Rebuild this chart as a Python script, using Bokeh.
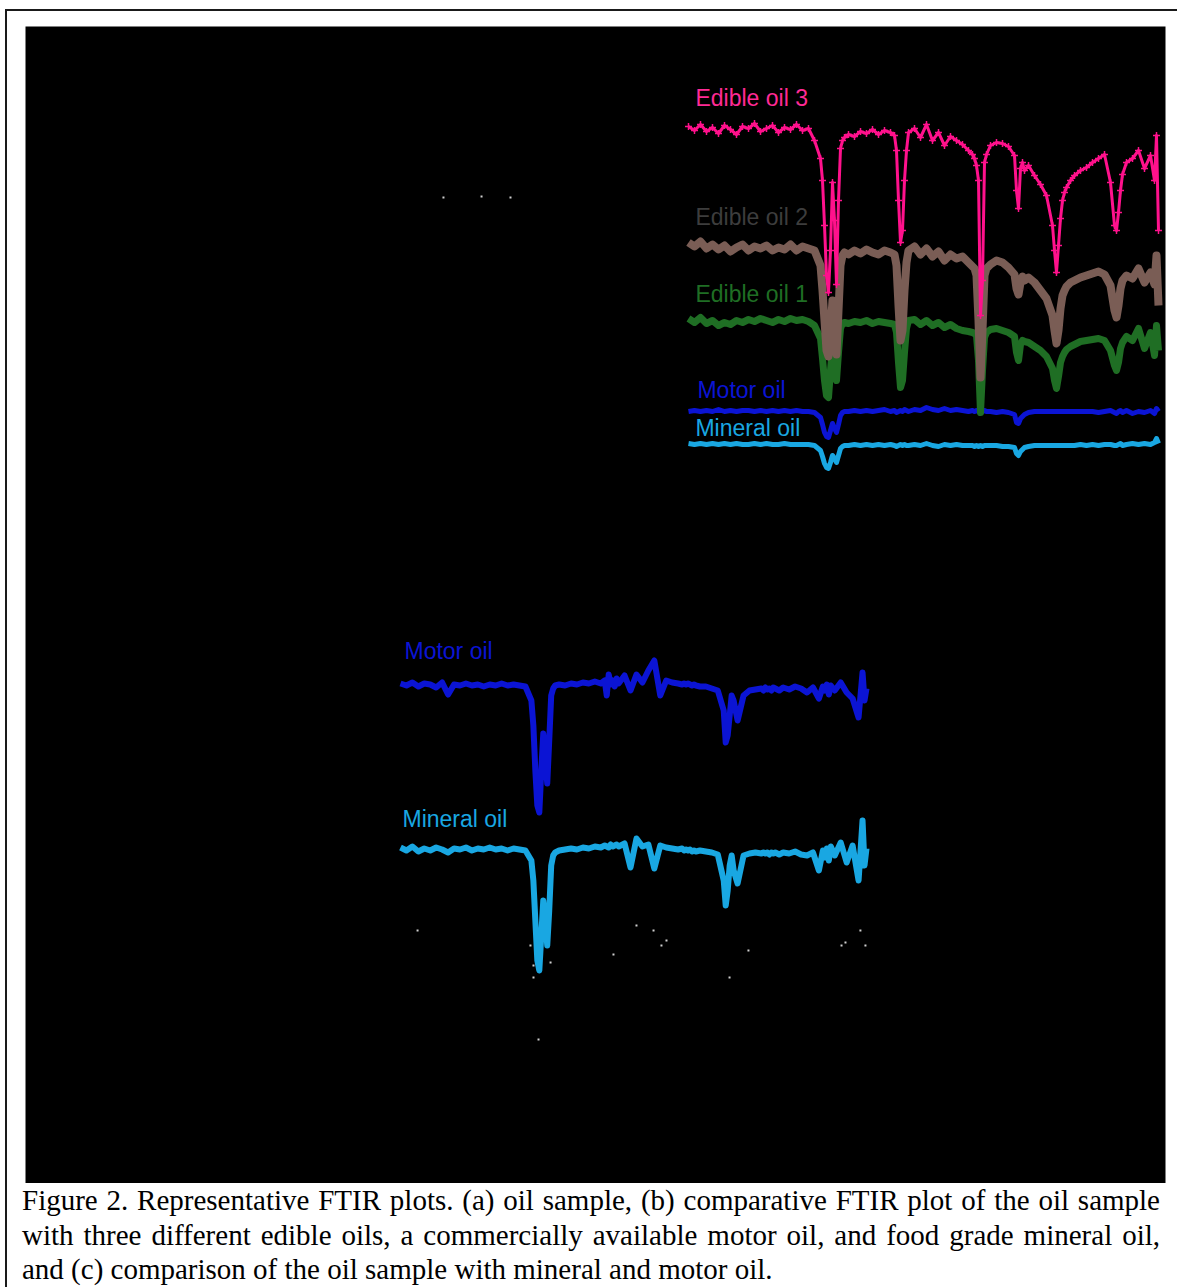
from bokeh.plotting import figure
from bokeh.models import Range1d, Div, Spacer
from bokeh.layouts import column, row
from bokeh.core.properties import value
from bokeh.embed import file_html
from bokeh.resources import INLINE

# ---------------- data ----------------
# wavenumber grid (cm-1), shared by all spectra
wavenumber = [4000, 3955, 3910, 3865, 3820, 3775, 3730, 3685, 3640, 3595, 3550, 3505, 3460, 3415, 3370, 3325,
              3280, 3235, 3190, 3145, 3100, 3055,
              3010, 2995, 2980, 2965, 2950, 2935, 2920, 2905, 2890, 2875, 2860, 2845, 2830,
              2800, 2755, 2710, 2665, 2620, 2575, 2530, 2485,
              2455, 2440, 2425, 2410, 2395, 2380, 2365, 2350,
              2305, 2260, 2215, 2170, 2125, 2080, 2035, 1990, 1945, 1900,
              1870, 1855, 1840, 1825, 1810, 1795, 1780, 1765,
              1735, 1690, 1645, 1600, 1555,
              1540, 1525, 1510, 1495, 1480,
              1450, 1405, 1360, 1315, 1270,
              1255, 1240, 1225, 1210, 1195, 1180, 1165,
              1135, 1105, 1060, 1015, 970, 925, 880, 835,
              805, 790, 775, 760, 745,
              715, 670, 625, 580, 535,
              505, 490, 475]

# panel (b): stacked transmittance (a.u.)
edible_oil_3 = [354, 350, 356, 349, 353, 347, 355, 351, 346, 354, 352, 357, 349, 352, 355, 348, 353, 351, 356, 350, 352, 340,
                322, 300, 255, 205, 188, 230, 298, 260, 196, 280, 332, 340, 343,
                346, 344, 349, 347, 351, 346, 350, 348,
                345, 330, 280, 238, 250, 300, 330, 348,
                352, 343, 356, 340, 348, 335, 344, 340, 336, 330,
                326, 322, 315, 300, 165, 200, 318, 326,
                335, 338, 337, 334, 325,
                290, 272, 312, 318, 310,
                315, 305, 296, 285, 255,
                230, 208, 235, 262, 280, 288, 293,
                300, 305, 310, 313, 318, 322, 326, 298,
                255, 250, 268, 290, 306,
                318, 322, 330, 312, 325,
                300, 345, 250]
edible_oil_2 = [238, 234, 239, 232, 236, 231, 235, 229, 233, 236, 230, 234, 232, 235, 230, 233, 231, 236, 230, 234, 232, 230,
                215, 190, 160, 130, 124, 150, 180, 150, 126, 170, 215, 225, 228,
                226, 230, 227, 231, 228, 226, 230, 228,
                226, 215, 175, 140, 150, 190, 218, 230,
                234, 226, 232, 224, 229, 220, 226, 222, 224, 218,
                214, 212, 205, 160, 103, 150, 205, 212,
                216, 220, 218, 213, 206,
                192, 186, 198, 204, 200,
                203, 198, 190, 182, 165,
                150, 137, 150, 172, 185, 190, 194,
                198, 200, 203, 205, 207, 209, 206, 195,
                170, 163, 175, 192, 200,
                205, 202, 212, 198, 208,
                196, 225, 175]
edible_oil_1 = [162, 158, 163, 157, 160, 155, 158, 156, 160, 158, 161, 159, 162, 160, 158, 161, 159, 162, 160, 161, 159, 155,
                142, 122, 100, 85, 83, 110, 133, 118, 100, 128, 152, 157, 158,
                157, 159, 158, 160, 157, 159, 158, 157,
                156, 148, 118, 93, 100, 128, 152, 160,
                161, 156, 160, 155, 158, 153, 156, 152, 150, 149,
                148, 147, 145, 120, 68, 110, 143, 148,
                151, 152, 150, 148, 144,
                128, 120, 136, 140, 139,
                138, 134, 130, 124, 112,
                100, 92, 104, 118, 124, 128, 131,
                134, 136, 139, 140, 141, 142, 140, 130,
                115, 110, 118, 132, 138,
                144, 140, 152, 132, 148,
                125, 155, 130]
motor_oil_b = [69, 70, 69, 70, 69, 71, 69, 70, 69, 70, 70, 69, 70, 69, 70, 69, 70, 69, 70, 69, 69, 68,
               63, 56, 48, 44, 43, 50, 57, 52, 48, 56, 65, 68, 69,
               69, 70, 69, 70, 69, 70, 71, 69,
               70, 68, 69, 70, 69, 71, 70, 69,
               71, 70, 73, 71, 70, 72, 70, 71, 70, 69,
               70, 69, 70, 69, 70, 69, 70, 69,
               69, 68, 69, 68, 66,
               58, 57, 62, 64, 66,
               68, 69, 69, 69, 69,
               69, 69, 69, 69, 69, 69, 69,
               69, 69, 69, 69, 69, 68, 69, 70,
               68, 67, 69, 70, 68,
               70, 67, 69, 68, 70,
               67, 72, 69]
mineral_oil_b = [37, 36, 37, 36, 37, 36, 37, 36, 37, 36, 36, 37, 36, 37, 36, 36, 37, 36, 36, 36, 36, 35,
                 30, 24, 17, 13, 12, 18, 25, 22, 18, 25, 32, 34, 35,
                 35, 36, 35, 36, 35, 36, 35, 36,
                 35, 34, 35, 36, 35, 36, 35, 35,
                 36, 35, 37, 35, 34, 36, 35, 36, 35, 35,
                 35, 34, 35, 34, 35, 34, 35, 35,
                 35, 35, 34, 34, 33,
                 27, 25, 29, 31, 33,
                 34, 35, 35, 35, 35,
                 35, 35, 35, 35, 35, 35, 35,
                 35, 35, 36, 35, 36, 35, 36, 36,
                 35, 35, 36, 37, 35,
                 36, 37, 36, 37, 36,
                 38, 42, 37]

# panel (c): stacked transmittance (a.u.)
motor_oil_c = [377, 375, 378, 374, 377, 376, 373, 378, 366, 376, 375, 377, 375, 376, 374, 376, 375, 377, 375, 376, 375, 374,
               360, 335, 290, 255, 248, 290, 327, 300, 277, 320, 365, 372, 375,
               376, 375, 377, 376, 378, 377, 379, 377,
               380, 365, 386, 376, 380, 374, 382, 377,
               385, 370, 386, 378, 390, 400, 365, 380, 378, 377,
               376, 377, 376, 377, 376, 375, 376, 375,
               374, 374, 372, 370, 350,
               318, 325, 345, 365, 360,
               340, 365, 370, 371, 372,
               370, 373, 371, 372, 370, 373, 372,
               370, 373, 371, 374, 372, 368, 373, 362,
               374, 370, 376, 366, 375,
               370, 378, 368, 362, 343,
               388, 360, 372]
mineral_oil_c = [213, 210, 214, 209, 212, 210, 213, 211, 208, 212, 211, 213, 210, 212, 211, 213, 211, 212, 210, 212, 211, 210,
                 200, 180, 140, 100, 90, 125, 160, 140, 115, 150, 195, 205, 208,
                 210, 211, 212, 211, 213, 212, 214, 213,
                 215, 214, 213, 216, 214, 215, 216, 214,
                 217, 193, 222, 214, 216, 192, 215, 213, 212, 211,
                 212, 210, 211, 210, 211, 209, 210, 209,
                 210, 209, 208, 206, 180,
                 155, 170, 195, 205, 190,
                 177, 205, 207, 208, 207,
                 208, 207, 208, 206, 208, 207, 208,
                 206, 208, 207, 209, 206, 205, 208, 190,
                 210, 203, 212, 200, 214,
                 205, 218, 198, 215, 180,
                 240, 195, 212]

# faint specks of the (black) oil-sample trace
sample_wn = [3675, 3387, 3168, 3871, 3017, 2994, 2994, 2865, 2956, 2389, 2215, 2086, 1988, 2026, 1368, 1511, 521, 634, 664, 483]
sample_val = [863, 864, 863, 130, 115, 95, 83, 98, 21, 106, 135, 130, 120, 115, 110, 83, 130, 118, 115, 115]

series_b = ["Mineral oil", "Motor oil", "Edible oil 1", "Edible oil 2", "Edible oil 3"]
series_c = ["Mineral oil", "Motor oil"]

caption_lines = [
    "Figure 2. Representative FTIR plots. (a) oil sample, (b) comparative FTIR plot of the oil sample",
    "with three different edible oils, a commercially available motor oil, and food grade mineral oil,",
    "and (c) comparison of the oil sample with mineral and motor oil.",
]

# ---------------- layout helpers ----------------
FRAME_L, FRAME_R, FRAME_T, FRAME_B = 25, 1165, 26, 1183   # page pixels of the black panel


def xrange_for(v0, p0, v1, p1):
    s = (v1 - v0) / (p1 - p0)
    return Range1d(start=v0 + (FRAME_L - p0) * s, end=v0 + (FRAME_R - p0) * s)


def yrange_for(v0, p0, v1, p1):
    s = (v1 - v0) / (p1 - p0)
    return Range1d(start=v0 + (FRAME_B - p0) * s, end=v0 + (FRAME_T - p0) * s)


p = figure(width=1170, height=1172, title=None, output_backend="svg", toolbar_location=None,
           x_range=Range1d(0, 1), y_range=Range1d(0, 1),
           x_axis_location=None, y_axis_location=None,
           min_border_left=18, min_border_right=12, min_border_top=15, min_border_bottom=0,
           background_fill_color="black", border_fill_color="white", outline_line_color=None)
p.grid.visible = False

p.extra_x_ranges = {"wb": xrange_for(4000, 688, 475, 1158), "wc": xrange_for(4000, 400, 475, 866)}
p.extra_y_ranges = {"yb": yrange_for(0, 480, 100, 380), "yc": yrange_for(0, 1060, 100, 960)}

col = {"Edible oil 3": "#ff118c", "Edible oil 2": "#7a5d55", "Edible oil 1": "#1f6e24",
       "Motor oil": "#0b14d4", "Mineral oil": "#19a7e2"}
label_col = dict(col)
label_col["Edible oil 2"] = "#3d3d3d"
label_col["Edible oil 3"] = "#ff2a95"

data_b = {"Edible oil 3": edible_oil_3, "Edible oil 2": edible_oil_2, "Edible oil 1": edible_oil_1,
          "Motor oil": motor_oil_b, "Mineral oil": mineral_oil_b}
width_b = {"Edible oil 3": 3, "Edible oil 2": 8, "Edible oil 1": 7, "Motor oil": 5, "Mineral oil": 5}

for name in series_b:
    p.line(wavenumber, data_b[name], line_color=col[name], line_width=width_b[name],
           line_join="round", x_range_name="wb", y_range_name="yb")
    if name == "Edible oil 3":
        p.scatter(wavenumber, data_b[name], marker="cross", size=7, line_width=1.5, line_color=col[name],
                  x_range_name="wb", y_range_name="yb")

data_c = {"Motor oil": motor_oil_c, "Mineral oil": mineral_oil_c}
for name in series_c:
    p.line(wavenumber, data_c[name], line_color=col[name], line_width=6,
           line_join="round", x_range_name="wc", y_range_name="yc")

p.scatter(sample_wn, sample_val, marker="square", size=2, line_color=None, fill_color="#d0d0d0",
          x_range_name="wc", y_range_name="yc")

# series labels (wavenumber, value positions)
labels_b = {"Edible oil 3": (3948, 383), "Edible oil 2": (3948, 264), "Edible oil 1": (3948, 187),
            "Motor oil": (3933, 91), "Mineral oil": (3948, 53)}
for name, (lx, ly) in labels_b.items():
    p.text([lx], [ly], text=[name], text_color=label_col[name], text_font=value("Liberation Sans"),
           text_font_size="23px", text_baseline="middle", x_range_name="wb", y_range_name="yb")

labels_c = {"Motor oil": (3970, 410), "Mineral oil": (3985, 242)}
for name, (lx, ly) in labels_c.items():
    p.text([lx], [ly], text=[name], text_color=label_col[name], text_font=value("Liberation Sans"),
           text_font_size="23px", text_baseline="middle", x_range_name="wc", y_range_name="yc")

# caption
rows = []
for i, t in enumerate(caption_lines):
    al = "justify" if i < len(caption_lines) - 1 else "left"
    rows.append(f'<div style="text-align:{al};text-align-last:{al};">{t}</div>')
cap_html = ('<div style="font-family:\'Liberation Serif\',\'Times New Roman\',serif;font-size:29px;'
            'line-height:34.5px;color:#000;padding-left:15px;width:1153px;">' + "".join(rows) + '</div>')
cap = Div(text=cap_html, width=1170, height=104, margin=0,
          styles={"overflow": "hidden", "background-color": "white"})

BORDER = "#1a1a1a"
content = column(Spacer(width=1170, height=2, styles={"background-color": BORDER}), p, cap, spacing=0)
framed = row(Spacer(width=5, height=1278), Spacer(width=2, height=1278, styles={"background-color": BORDER}),
             content, spacing=0)
layout = column(Spacer(width=1177, height=9), framed, spacing=0)

open("out.html", "w").write(file_html(layout, INLINE))
